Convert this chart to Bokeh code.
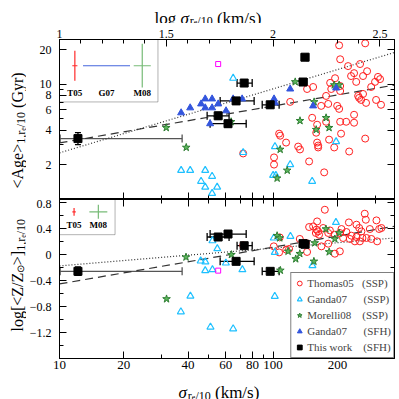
import numpy as np
from math import pi
from bokeh.plotting import figure
from bokeh.layouts import gridplot
from bokeh.models import (Range1d, LogAxis, LinearAxis, FixedTicker, CustomJSTickFormatter,
                          ColumnDataSource, Whisker, TeeHead, Legend, LegendItem, BoxAnnotation)
from bokeh.core.properties import value
from bokeh.embed import file_html
from bokeh.resources import INLINE

# ---------------- data ----------------
# Thomas05 (SSP)
t05_sig_age = [203.7, 269.8, 206, 224.4, 255.3, 275.4, 239.3, 231.7, 263.6, 309.7, 316.7, 300, 244.9, 195,
               184.9, 187.1, 206, 206, 153.9, 144.2, 177, 120.2, 167.9, 250, 252.7, 258.2, 272.3, 303.4,
               319.9, 199.5, 203.7, 181.1, 152.3, 177, 206, 219.8, 239.3, 239.3, 160.7, 159.1, 208, 182.8,
               269.8, 160.7, 162.5, 162.5, 106.7, 107.9, 115, 131, 133.6, 227, 101, 147.4, 101, 173.4,
               72.4, 287.7, 263.6, 193.2]
t05_age = [21.8, 22.7, 16.5, 14.4, 15.0, 13.0, 12.5, 11.8, 11.8, 11.6, 11.1, 10.5, 10.5, 11.3,
           10.3, 9.11, 9.67, 8.75, 9.48, 9.11, 7.93, 7.04, 6.50, 7.93, 7.62, 7.32, 6.90, 7.32,
           6.64, 6.50, 6.12, 6.76, 5.12, 4.73, 4.73, 4.73, 5.44, 4.64, 4.46, 3.80, 3.73, 3.31,
           3.38, 3.12, 2.94, 2.83, 3.73, 3.58, 3.12, 2.88, 2.72, 2.61, 2.32, 2.14, 2.01, 1.72,
           2.51, 9.48, 8.25, 2.83]
t05_sig_z = [174.6, 268.5, 160.7, 147.4, 153.9, 159.6, 162.5, 158.5, 164.1, 171.5, 184.4, 181.1, 194.5,
             208.9, 226.3, 245.6, 271.6, 252.9, 259, 283.6, 304.6, 313.6, 321.3, 205.3, 220.4, 212.6,
             228.7, 245.6, 261.9, 273.5, 288.4, 306.9, 241.4, 254.8, 232.6, 133.3, 142.2, 107.4, 100.7,
             106.7, 115.3, 118.8, 144.2, 168.3, 181.1, 194.5, 205.3, 72.4]
t05_z = [0.692, 0.631, 0.512, 0.426, 0.435, 0.385, 0.358, 0.334, 0.308, 0.411, 0.374, 0.334, 0.308,
         0.395, 0.497, 0.462, 0.538, 0.411, 0.358, 0.395, 0.528, 0.395, 0.411, 0.334, 0.349, 0.257,
         0.242, 0.272, 0.257, 0.257, 0.242, 0.205, 0.205, 0.205, 0.292, 0.242, 0.180, 0.266, 0.128,
         0.035, 0.077, 0.088, 0.042, 0.128, 0.169, 0.015, 0.051, 0.143]

# Ganda07 (SSP)
g07s_sig_age = [37.1, 40.9, 48.1, 51.8, 46.0, 48.1, 54.7, 51.8, 65.0, 72.4, 102, 120.2, 100, 103, 152.3, 197.2]
g07s_age = [1.79, 1.79, 1.79, 1.59, 1.44, 1.28, 1.28, 1.13, 11.3, 2.56, 2.88, 2.01, 1.62, 1.62, 1.44, 3.18]
g07s_sig_z = [52.0, 54.8, 45.8, 48.2, 48.1, 52.0, 60.1, 71.8, 41.0, 37.0, 50.9, 65.0, 100.7, 101.8,
              120.5, 152.8, 196.8, 101.8]
g07s_z = [0.215, 0.092, -0.097, -0.112, -0.246, -0.231, -0.128, -0.231, -0.638, -0.880, -1.115, -1.142,
          0.257, 0.035, 0.282, -0.169, 0.497, -0.642]

# Ganda07 (SFH)
g07f_sig_age = [37.1, 40.9, 46.0, 48.1, 51.8, 48.1, 51.8, 55.3, 60.2, 65.0, 71.6, 50.7, 101, 102, 120.2, 153.9, 197.2]
g07f_age = [5.66, 6.25, 6.76, 7.47, 7.47, 6.25, 6.25, 6.76, 5.89, 7.47, 7.47, 4.55, 7.47, 6.90, 9.11, 6.50, 9.29]

# Morelli08 (SSP)
m08_sig_age = [31.6, 39.2, 63.6, 126.9, 155.6, 133.6, 177, 159.1, 182.8, 107.9, 116.4, 104.4, 193.2, 203.7]
m08_age = [4.20, 2.83, 4.73, 10.5, 7.04, 4.83, 5.12, 4.04, 4.20, 2.72, 1.79, 1.53, 9.86, 9.86]
m08_sig_z = [39.1, 63.8, 31.7, 104.4, 107.4, 117.5, 133.3, 127.6, 156.6, 155.2, 176.6, 183, 194.5, 203.7, 108.1]
m08_z = [-0.038, 0.0, -0.682, 0.292, 0.257, 0.051, 0.015, -0.066, 0.180, -0.103, 0.395, 0.042, 0.242, 0.334, -0.242]

# magenta object
mag_sig = [55.3]
mag_age = [15.0]
mag_z = [-0.246]

# This work (SFH)
tw_sig = [12.2, 55.3, 61.5, 67.1, 73.2, 96.9, 138, 141.2]
tw_sig_lo = [10.07, 49.1, 50.7, 56.5, 67.8, 88.9, 133.6, 135.3]
tw_sig_hi = [37.5, 62.2, 74.8, 81.5, 79.8, 106.7, 144.2, 144.2]
tw_age = [3.38, 5.33, 4.55, 7.18, 10.26, 6.64, 10.47, 17.2]
tw_age_lo = [3.00, 5.0, 4.25, 6.75, 9.7, 6.25, 9.9, 16.3]
tw_age_hi = [3.80, 5.7, 4.85, 7.65, 10.9, 7.05, 11.1, 18.2]
tw_z = [-0.257, 0.272, 0.318, -0.103, 0.138, -0.257, 0.17, 0.16]
tw_z_lo = [-0.32, 0.24, 0.29, -0.13, 0.11, -0.285, 0.14, 0.13]
tw_z_hi = [-0.19, 0.30, 0.345, -0.075, 0.165, -0.23, 0.20, 0.19]

# fitted relations (end points)
fit_sig = [10, 370]
fit_age_dotted = [2.54, 18.9]
fit_age_dashed = [3.10, 9.85]
fit_z_dotted = [-0.174, 0.257]
fit_z_dashed = [-0.451, 0.438]

# typical errors (dex) shown in the insets
inset_names_top = ["T05", "G07", "M08"]
inset_age_err = [0.13, 0.0, 0.19]
inset_sig_err_top = [0.012, 0.11, 0.04]
inset_names_bot = ["T05", "M08"]
inset_z_err = [0.06, 0.108]
inset_sig_err_bot = [0.008, 0.042]
inset_colors_top = ["#ff2a2a", "#4466dd", "#77bb77"]
inset_colors_bot = ["#ff2a2a", "#77bb77"]

# ticks
sigma_major = [10, 20, 40, 60, 80, 100, 200]
sigma_minor = [30, 50, 70, 90, 300]
logsig_major = [1.0, 1.5, 2.0, 2.5]
logsig_minor = [1.1, 1.2, 1.3, 1.4, 1.6, 1.7, 1.8, 1.9, 2.1, 2.2, 2.3, 2.4]
age_major = [2, 4, 6, 8, 10, 20]
age_minor = [1, 3, 5, 7, 9]
z_major = [-1.2, -0.8, -0.4, 0, 0.4, 0.8]
z_minor = [-1.4, -1.0, -0.6, -0.2, 0.2, 0.6]

# ---------------- styling ----------------
FONT = "Liberation Serif"
RED = "#ff2020"
CYAN = "#1ec0ff"
GREEN = "#5cb85c"
GREEN_D = "#2e7d32"
BLUE = "#3355dd"

W = {'<': 0.564, '>': 0.564, 'A': 0.722, 'g': 0.5, 'e': 0.444, '1': 0.5, '0': 0.5, ',': 0.25,
     'r': 0.333, '/': 0.278, ' ': 0.25, '(': 0.333, ')': 0.333, 'G': 0.722, 'y': 0.5, 'l': 0.278,
     'o': 0.5, '[': 0.333, ']': 0.333, 'Z': 0.611, '\u2299': 0.75, '\u03c3': 0.55, 'k': 0.5,
     'm': 0.778, 's': 0.389}

LEFT_W, FRAME_W, RIGHT_B = 31, 335, 7
STRIP_W = 26


def bare(f):
    f.outline_line_color = None
    f.xgrid.grid_line_color = None
    f.ygrid.grid_line_color = None
    f.background_fill_color = "white"
    f.border_fill_color = "white"
    return f


def hstrip(height):
    # horizontal text strip aligned with the panels; x in page pixels, y up
    f = figure(frame_width=FRAME_W, frame_height=height, min_border_left=LEFT_W, min_border_right=RIGHT_B,
               min_border_top=0, min_border_bottom=0,
               x_range=Range1d(STRIP_W + LEFT_W, STRIP_W + LEFT_W + FRAME_W), y_range=Range1d(0, height),
               output_backend="svg", toolbar_location=None, x_axis_location=None, y_axis_location=None,
               title=None)
    return bare(f)


def vstrip(frame_h, top, bottom, page_frame_top):
    # vertical text strip beside a panel; y = 399 - page y
    f = figure(frame_width=STRIP_W, frame_height=frame_h, min_border_left=0, min_border_right=0,
               min_border_top=top, min_border_bottom=bottom, x_range=Range1d(0, STRIP_W),
               y_range=Range1d(399 - page_frame_top - frame_h, 399 - page_frame_top),
               output_backend="svg", toolbar_location=None, x_axis_location=None, y_axis_location=None,
               title=None)
    return bare(f)


def runs_text(fig, runs, x0, y0, vertical):
    pos = 0.0
    for txt, size, shift, style in runs:
        w = sum(W.get(c, 0.5) for c in txt) * size
        if txt.strip():
            if vertical:
                x, y, ang = x0 + shift, y0 + pos, pi / 2
            else:
                x, y, ang = x0 + pos, y0 - shift, 0
            fig.text(x=[x], y=[y], text=[txt], angle=ang, text_font=value(FONT),
                     text_font_size=f"{size}px", text_font_style=style, text_align="left",
                     text_baseline="alphabetic", text_color="black")
        pos += w


def style_axis(ax, labels=True, size="11px", standoff=6):
    ax.axis_line_color = "black"
    ax.axis_line_width = 1
    ax.major_tick_in = 7
    ax.major_tick_out = 0
    ax.minor_tick_in = 4
    ax.minor_tick_out = 0
    ax.major_tick_line_color = "black"
    ax.minor_tick_line_color = "black"
    if labels:
        ax.major_label_text_font = FONT
        ax.major_label_text_font_size = size
        ax.major_label_text_color = "black"
        ax.major_label_standoff = standoff
    else:
        ax.major_label_text_font_size = "0px"
        ax.major_label_standoff = 0
        ax.formatter = CustomJSTickFormatter(code="return ''")


int_fmt = CustomJSTickFormatter(code="return Math.round(tick).toString();")
log_fmt = CustomJSTickFormatter(code="return (Math.round(Math.log10(tick)*10)/10).toString();")
z_fmt = CustomJSTickFormatter(code="""
if (Math.abs(tick) < 1e-9) return '0';
const s = Math.abs(tick).toFixed(1);
return (tick < 0 ? '\u2212' : '') + s;""")


def panel_fig(y_type, y_range, frame_h, top, bottom, x_range=None):
    kw = dict(x_axis_type="log", y_axis_type=y_type, y_range=y_range,
              frame_width=FRAME_W, frame_height=frame_h, min_border_left=LEFT_W, min_border_right=RIGHT_B,
              min_border_top=top, min_border_bottom=bottom, output_backend="svg",
              toolbar_location=None, x_axis_location=None, y_axis_location=None, title=None)
    kw["x_range"] = x_range if x_range is not None else Range1d(10, 370)
    f = figure(**kw)
    f.xgrid.grid_line_color = None
    f.ygrid.grid_line_color = None
    f.outline_line_color = "black"
    f.background_fill_color = "white"
    f.border_fill_color = "white"
    return f


# ---------------- top panel ----------------
p1 = panel_fig("log", Range1d(1, 24.5), 160, 16, 0)

ax = LogAxis(ticker=FixedTicker(ticks=age_major, minor_ticks=age_minor), formatter=int_fmt)
style_axis(ax, True, "12px", 8)
p1.add_layout(ax, "left")
ax = LogAxis(ticker=FixedTicker(ticks=age_major, minor_ticks=age_minor))
style_axis(ax, False)
p1.add_layout(ax, "right")
ax = LogAxis(ticker=FixedTicker(ticks=sigma_major, minor_ticks=sigma_minor))
style_axis(ax, False)
p1.add_layout(ax, "below")
ax = LogAxis(ticker=FixedTicker(ticks=[10 ** v for v in logsig_major],
                                minor_ticks=[10 ** v for v in logsig_minor]), formatter=log_fmt)
style_axis(ax, True, "12px", 2)
p1.add_layout(ax, "above")

p1.line(fit_sig, fit_age_dotted, line_color="#333333", line_width=1.2, line_dash="1 2")
p1.line(fit_sig, fit_age_dashed, line_color="#333333", line_width=1.2, line_dash="8 5")

p1.scatter(t05_sig_age, t05_age, marker="circle", size=7, fill_color=None, line_color=RED, line_width=1)
p1.scatter(g07s_sig_age, g07s_age, marker="triangle", size=7, fill_color=None, line_color=CYAN, line_width=1.2)
p1.scatter(m08_sig_age, m08_age, marker="star", size=8, fill_color=GREEN, line_color=GREEN_D, line_width=1)
p1.scatter(g07f_sig_age, g07f_age, marker="triangle", size=7, fill_color=BLUE, line_color=BLUE)
p1.scatter(mag_sig, mag_age, marker="square", size=5, fill_color=None, line_color="#ff00ff", line_width=1)


def add_errors(fig, ys, ylo, yhi):
    for sl, col in ((slice(0, 1), "#555555"), (slice(1, None), "black")):
        src = ColumnDataSource(dict(sig=tw_sig[sl], slo=tw_sig_lo[sl], shi=tw_sig_hi[sl],
                                    y=ys[sl], ylo=ylo[sl], yhi=yhi[sl]))
        fig.add_layout(Whisker(source=src, base="y", lower="slo", upper="shi", dimension="width",
                               line_color=col, line_width=1.3,
                               lower_head=TeeHead(size=8, line_color=col, line_width=1.3),
                               upper_head=TeeHead(size=8, line_color=col, line_width=1.3)))
        fig.add_layout(Whisker(source=src, base="sig", lower="ylo", upper="yhi", dimension="height",
                               line_color="black", line_width=1.3,
                               lower_head=TeeHead(size=6, line_color="black", line_width=1.3),
                               upper_head=TeeHead(size=6, line_color="black", line_width=1.3)))


add_errors(p1, tw_age, tw_age_lo, tw_age_hi)
p1.scatter(tw_sig, tw_age, marker="square", size=8, fill_color="black", line_color="black")

# inset (top)
p1.add_layout(BoxAnnotation(left=10, right=28.9, bottom=7.03, top=24.5, fill_alpha=0,
                            line_color="black", line_width=1))
ins_sig_top = [11.8, 16.6, 24.4]
ins_age_c = 14.5
for s, ae, se, col in zip(ins_sig_top, inset_age_err, inset_sig_err_top, inset_colors_top):
    if ae > 0:
        p1.segment(x0=[s], y0=[ins_age_c / 10 ** ae], x1=[s], y1=[ins_age_c * 10 ** ae], line_color=col, line_width=1.2)
    p1.segment(x0=[s / 10 ** se], y0=[ins_age_c], x1=[s * 10 ** se], y1=[ins_age_c], line_color=col, line_width=1.2)
p1.text(x=ins_sig_top, y=[8.4] * 3, text=inset_names_top, text_font=value(FONT), text_font_size="9px",
        text_font_style="bold", text_align="center", text_baseline="middle", text_color="black")

# ---------------- bottom panel ----------------
p2 = panel_fig("linear", Range1d(-1.6, 0.85), 159, 0, 17, x_range=p1.x_range)

ax = LinearAxis(ticker=FixedTicker(ticks=z_major, minor_ticks=z_minor), formatter=z_fmt)
style_axis(ax, True, "12px", 8)
p2.add_layout(ax, "left")
ax = LinearAxis(ticker=FixedTicker(ticks=z_major, minor_ticks=z_minor))
style_axis(ax, False)
p2.add_layout(ax, "right")
ax = LogAxis(ticker=FixedTicker(ticks=sigma_major, minor_ticks=sigma_minor), formatter=int_fmt)
style_axis(ax, True, "13px", 2)
p2.add_layout(ax, "below")
ax = LogAxis(ticker=FixedTicker(ticks=sigma_major, minor_ticks=sigma_minor))
style_axis(ax, False)
p2.add_layout(ax, "above")

p2.line(fit_sig, fit_z_dotted, line_color="#333333", line_width=1.2, line_dash="1 2")
p2.line(fit_sig, fit_z_dashed, line_color="#333333", line_width=1.2, line_dash="8 5")

r_red = p2.scatter(t05_sig_z, t05_z, marker="circle", size=7, fill_color=None, line_color=RED, line_width=1)
r_cyan = p2.scatter(g07s_sig_z, g07s_z, marker="triangle", size=7, fill_color=None, line_color=CYAN, line_width=1.2)
r_green = p2.scatter(m08_sig_z, m08_z, marker="star", size=8, fill_color=GREEN, line_color=GREEN_D, line_width=1)
# Ganda07 (SFH) has no metallicities: a renderer with no drawable point, for the legend only
r_blue = p2.scatter(x=[np.nan], y=[np.nan], marker="triangle", size=7, fill_color=BLUE, line_color=BLUE)
p2.scatter(mag_sig, mag_z, marker="square", size=5, fill_color=None, line_color="#ff00ff", line_width=1)
add_errors(p2, tw_z, tw_z_lo, tw_z_hi)
r_black = p2.scatter(tw_sig, tw_z, marker="square", size=8, fill_color="black", line_color="black")

# inset (bottom)
p2.add_layout(BoxAnnotation(left=10, right=18.2, bottom=0.308, top=0.85, fill_alpha=0,
                            line_color="black", line_width=1))
ins_sig_bot = [11.7, 15.2]
ins_z_c = 0.66
for s, ze, se, col in zip(ins_sig_bot, inset_z_err, inset_sig_err_bot, inset_colors_bot):
    p2.segment(x0=[s], y0=[ins_z_c - ze], x1=[s], y1=[ins_z_c + ze], line_color=col, line_width=1.2)
    p2.segment(x0=[s / 10 ** se], y0=[ins_z_c], x1=[s * 10 ** se], y1=[ins_z_c], line_color=col, line_width=1.2)
p2.text(x=ins_sig_bot, y=[0.46] * 2, text=inset_names_bot, text_font=value(FONT), text_font_size="9px",
        text_font_style="bold", text_align="center", text_baseline="middle", text_color="black")

NB = "\u00a0"
legend = Legend(items=[
    LegendItem(label="Thomas05" + NB * 3 + "(SSP)", renderers=[r_red]),
    LegendItem(label="Ganda07" + NB * 6 + "(SSP)", renderers=[r_cyan]),
    LegendItem(label="Morelli08" + NB * 4 + "(SSP)", renderers=[r_green]),
    LegendItem(label="Ganda07" + NB * 6 + "(SFH)", renderers=[r_blue]),
    LegendItem(label="This" + NB + "work" + NB * 4 + "(SFH)", renderers=[r_black]),
], location="bottom_right")
legend.label_text_font = FONT
legend.label_text_font_size = "11px"
legend.glyph_width = 12
legend.glyph_height = 16
legend.label_height = 16
legend.label_standoff = 2
legend.padding = 2
legend.spacing = 0
legend.margin = 0
legend.border_line_color = "black"
legend.border_line_width = 1
legend.background_fill_color = "white"
legend.background_fill_alpha = 1
p2.add_layout(legend)

# ---------------- axis titles (text strips around the panels) ----------------
top = hstrip(23)                   # page y 0..23
bot = hstrip(24)                   # page y 375..399
left1 = vstrip(160, 16, 0, 39)     # beside top panel frame (page y 39..199)
left2 = vstrip(159, 0, 17, 199)    # beside bottom panel frame (page y 199..358)

# top title (x in page px; baseline at page y 17.5)
runs_text(top, [("log", 17, 0, "normal"), (" ", 17, 0, "normal"), ("\u03c3", 17, 0, "italic"),
                ("r", 12, 2.5, "normal"), ("e", 8, 4, "normal"), ("/10", 12, 2.5, "normal"),
                (" ", 17, 0, "normal"), ("(km/s)", 17, 0, "normal")], 152, 5.5, False)
# bottom title (baseline at page y 392)
runs_text(bot, [("\u03c3", 17, 0, "italic"), ("r", 12, 3, "normal"), ("e", 8, 4.5, "normal"),
                ("/10", 12, 3, "normal"), (" ", 17, 0, "normal"), ("(km/s)", 17, 0, "normal")],
          176, 7, False)
# left titles (y = 399 - page y)
runs_text(left1, [("<Age>", 16, 0, "normal"), ("1,r", 12, 4, "normal"), ("e", 8, 6, "normal"),
                  ("/10", 12, 4, "normal"), (" ", 16, 0, "normal"), ("(Gyr)", 16, 0, "normal")],
          16.5, 211, True)
runs_text(left2, [("log[<Z/Z", 16, 0, "normal"), ("\u2299", 10, 3, "normal"), (">]", 16, 0, "normal"),
                  ("1,r", 12, 4, "normal"), ("e", 8, 6, "normal"), ("/10", 12, 4, "normal")],
          16.5, 68, True)

layout = gridplot([[None, top], [left1, p1], [left2, p2], [None, bot]], toolbar_location=None)
open("out.html", "w").write(file_html(layout, INLINE))
